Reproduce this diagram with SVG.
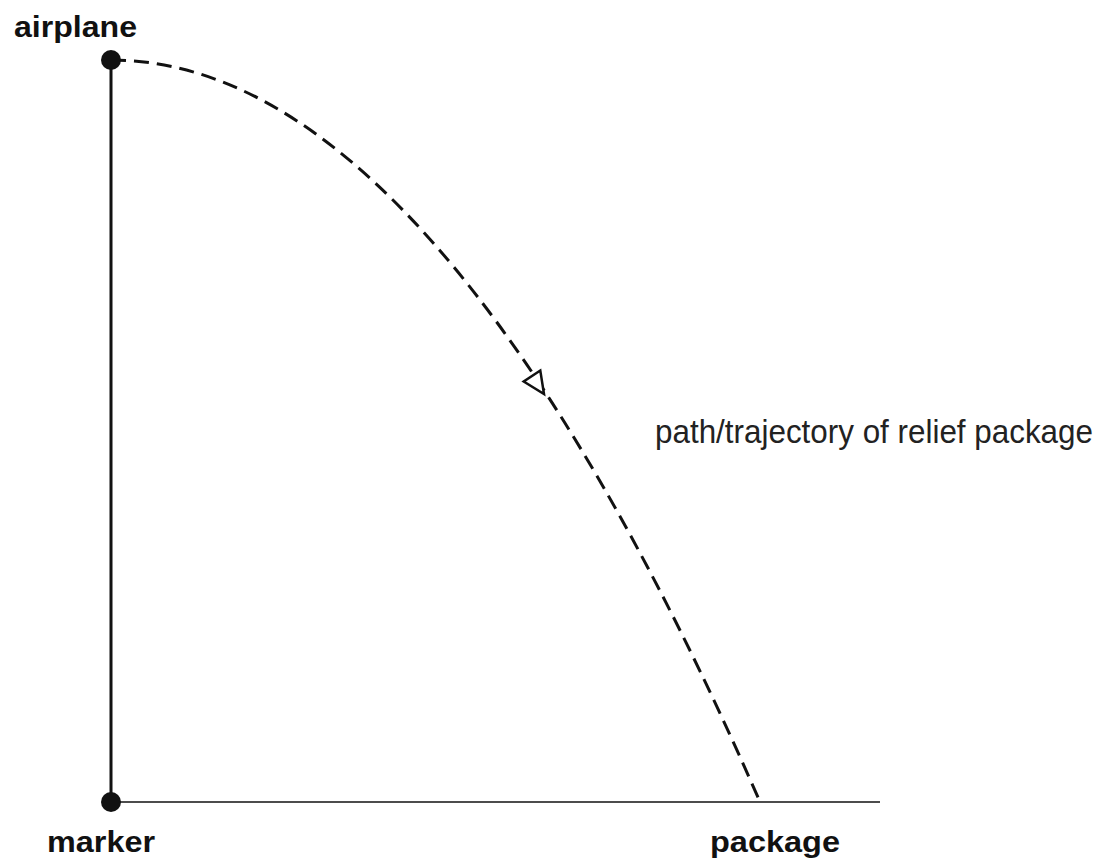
<svg xmlns="http://www.w3.org/2000/svg" width="1106" height="868" viewBox="0 0 1106 868">
<style>
.lbl{font-family:"Liberation Sans",Arial,sans-serif;font-weight:bold;font-size:30px;fill:#111}
.cap{font-family:"Liberation Sans",Arial,sans-serif;font-size:33px;fill:#222}
</style>
<rect width="1106" height="868" fill="#fff"/>
<g id="connectors" fill="none" stroke="#111">
<line x1="111" y1="60" x2="111" y2="802" stroke-width="3"/>
<line x1="111" y1="802" x2="880" y2="802" stroke-width="1.5"/>
<path d="M111,60 Q435.5,60 760,802" stroke-width="3" stroke-dasharray="15,8"/>
<polygon points="540.3,370.5 523.7,381.5 544,394" fill="#fff" stroke-width="2.5"/>
</g>
<g id="airplane"><circle cx="111" cy="60" r="10" fill="#111"/><text class="lbl" x="14" y="37" textLength="123" lengthAdjust="spacingAndGlyphs">airplane</text></g>
<g id="marker"><circle cx="111" cy="802" r="10" fill="#111"/><text class="lbl" x="47" y="852" textLength="108" lengthAdjust="spacingAndGlyphs">marker</text></g>
<g id="package"><text class="lbl" x="710" y="852" textLength="130" lengthAdjust="spacingAndGlyphs">package</text></g>
<g id="label"><text class="cap" x="655" y="443" textLength="438" lengthAdjust="spacingAndGlyphs">path/trajectory of relief package</text></g>
</svg>
